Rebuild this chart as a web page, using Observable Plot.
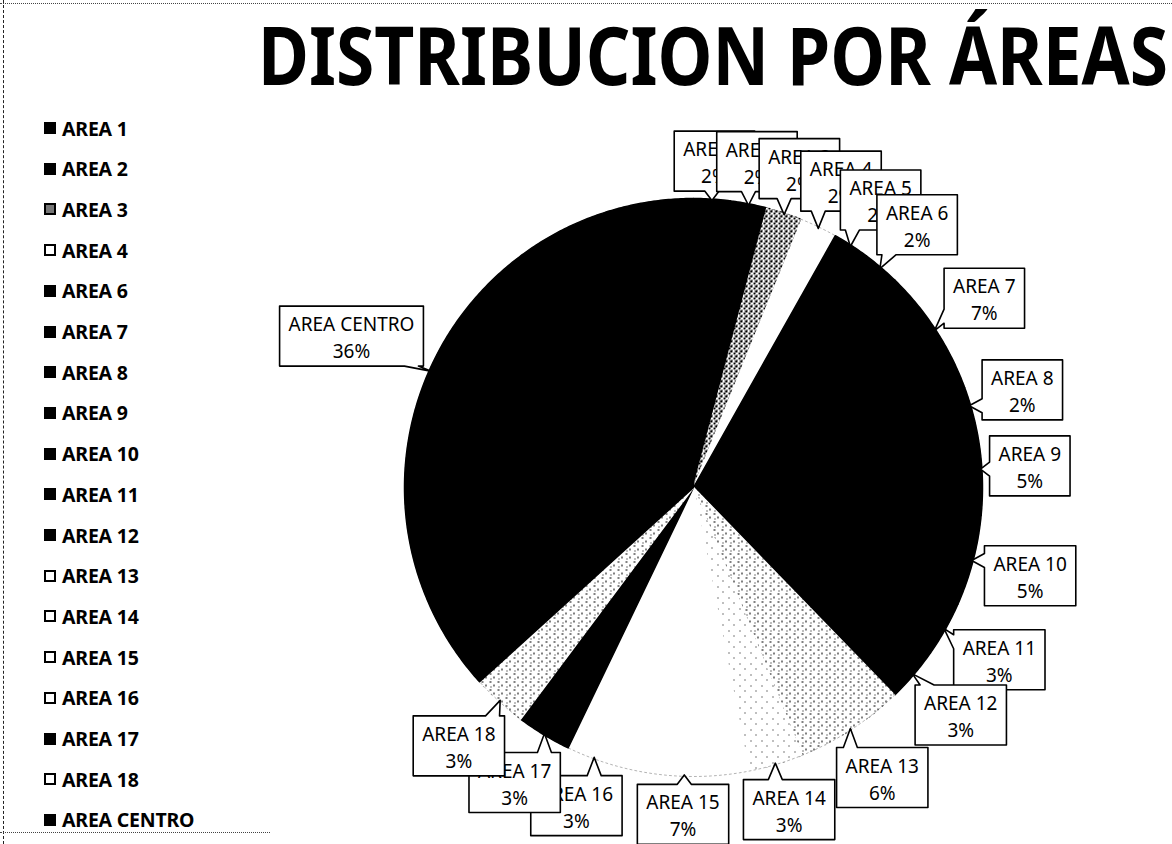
<!DOCTYPE html>
<html><head><meta charset="utf-8">
<script src="https://cdn.jsdelivr.net/npm/d3@7"></script>
<script src="https://cdn.jsdelivr.net/npm/@observablehq/plot@0.6"></script>
<style>
html,body{margin:0;padding:0;background:#fff;}
#wrap{position:relative;width:1172px;height:844px;overflow:hidden;font-family:"Noto Sans",sans-serif;background:#fff;}
#chart{position:absolute;left:0;top:0;}
#bl{position:absolute;left:3px;top:0;width:0;height:844px;border-left:1.5px dashed #222;}
#bt{position:absolute;left:0;top:3px;width:1172px;height:0;border-top:1px dotted #444;}
#bb{position:absolute;left:0;top:832px;width:270px;height:0;border-top:1px dotted #444;}
#title{position:absolute;left:258px;top:14px;font-size:80px;font-weight:700;line-height:80px;white-space:nowrap;transform-origin:0 0;color:#000;}
.leg{position:absolute;left:44px;height:20px;display:flex;align-items:center;font-weight:700;font-size:19.5px;white-space:nowrap;color:#000;letter-spacing:-0.2px;}
.sw{width:12px;height:12px;box-sizing:border-box;margin-right:6px;flex:none;}
</style></head><body>
<div id="wrap">
  <div id="chart"></div>
  <div id="bl"></div><div id="bt"></div><div id="bb"></div>
  <div id="title"></div>
  <div id="legend"></div>
</div>
<script>
// ---- data ----
const titleText = "DISTRIBUCION POR ÁREAS";
const categories = ["AREA 1","AREA 2","AREA 3","AREA 4","AREA 5","AREA 6","AREA 7","AREA 8","AREA 9","AREA 10",
  "AREA 11","AREA 12","AREA 13","AREA 14","AREA 15","AREA 16","AREA 17","AREA 18","AREA CENTRO"];
const percents = [2,2,2,2,2,2,7,2,5,5,3,3,6,3,7,3,3,3,36];
const legendCategories = ["AREA 1","AREA 2","AREA 3","AREA 4","AREA 6","AREA 7","AREA 8","AREA 9","AREA 10",
  "AREA 11","AREA 12","AREA 13","AREA 14","AREA 15","AREA 16","AREA 17","AREA 18","AREA CENTRO"];

// ---- styles ----
const sliceFills = ["#000","#000","url(#dotsDense)","#fff","#000","#000","#000","#000","#000","#000",
  "#000","#000","url(#dotsMed)","url(#dotsLight)","#fff","#fff","#000","url(#dotsMed)","#000"];
const legendSwatch = {
  "AREA 1":"black","AREA 2":"black","AREA 3":"gray","AREA 4":"open","AREA 6":"black","AREA 7":"black",
  "AREA 8":"black","AREA 9":"black","AREA 10":"black","AREA 11":"black","AREA 12":"black","AREA 13":"open",
  "AREA 14":"open","AREA 15":"open","AREA 16":"open","AREA 17":"black","AREA 18":"open","AREA CENTRO":"black"};

// ---- geometry ----
const W = 1172, H = 844, CX = 693, CY = 487, R = 289;
const FONT = "'Noto Sans', sans-serif", FS = 19;

const arcs = d3.pie().sort(null).value(d => d.value)(categories.map((name, i) => ({name, value: percents[i], fill: sliceFills[i]})));

const slicePts = arcs.flatMap(a => {
  const n = Math.max(2, Math.ceil((a.endAngle - a.startAngle) / (Math.PI / 360)));
  const base = {name: a.data.name, fill: a.data.fill};
  const pts = [{...base, x: 0, y: 0}];
  for (let j = 0; j <= n; j++) {
    const t = a.startAngle + (a.endAngle - a.startAngle) * j / n;
    pts.push({...base, x: Math.sin(t), y: Math.cos(t)});
  }
  pts.push({...base, x: 0, y: 0});
  return pts;
});
const circlePts = d3.range(0, 361).map(d => ({x: Math.sin(d * Math.PI / 180), y: Math.cos(d * Math.PI / 180)}));

// measure text
const ctx = document.createElement("canvas").getContext("2d");
ctx.font = `${FS}px ${FONT}`;
const tw = s => ctx.measureText(s).width;

const GAP = 7, PAD = 9, BH = 60, WB = 7;
const labels = arcs.map(a => {
  const name = a.data.name;
  const pct = a.data.value + "%";
  const m = (a.startAngle + a.endAngle) / 2;
  const ux = Math.sin(m), uy = -Math.cos(m);
  const hw = (Math.max(tw(name), tw(pct)) + 2 * PAD) / 2, hh = BH / 2;
  let t = R;
  for (; t < R + 300; t += 1) {
    const cx = ux * t, cy = uy * t;
    const dx = Math.max(Math.abs(cx) - hw, 0), dy = Math.max(Math.abs(cy) - hh, 0);
    if (Math.hypot(dx, dy) >= R + GAP) break;
  }
  const cx = ux * t, cy = uy * t;
  const T = [ux * R * 0.995, uy * R * 0.995];
  const L = cx - hw, Rt = cx + hw, Tp = cy - hh, Bt = cy + hh;
  const rx = T[0] - cx, ry = T[1] - cy;
  const clamp = (v, lo, hi) => Math.max(lo, Math.min(hi, v));
  let poly;
  if (Math.abs(rx) * hh > Math.abs(ry) * hw) {
    const by = clamp(T[1], Tp + 12, Bt - 12);
    if (rx < 0) poly = [[L,Tp],[Rt,Tp],[Rt,Bt],[L,Bt],[L,by+WB],T,[L,by-WB],[L,Tp]];
    else poly = [[L,Tp],[Rt,Tp],[Rt,by-WB],T,[Rt,by+WB],[Rt,Bt],[L,Bt],[L,Tp]];
  } else {
    const bx = clamp(T[0], L + 12, Rt - 12);
    if (ry < 0) poly = [[L,Tp],[bx-WB,Tp],T,[bx+WB,Tp],[Rt,Tp],[Rt,Bt],[L,Bt],[L,Tp]];
    else poly = [[L,Tp],[Rt,Tp],[Rt,Bt],[bx+WB,Bt],T,[bx-WB,Bt],[L,Bt],[L,Tp]];
  }
  return {
    name, pct,
    x: cx / R, y: -cy / R,
    poly: poly.map(([px, py]) => ({x: px / R, y: -py / R}))
  };
});

const defsMark = () => {
  const d = document.createElementNS("http://www.w3.org/2000/svg", "defs");
  d.innerHTML = `
  <pattern id="dotsDense" width="5" height="5" patternUnits="userSpaceOnUse">
    <rect width="5" height="5" fill="#fff"/><rect x="0" y="0" width="2" height="2" fill="#000"/>
    <rect x="3" y="2" width="2" height="2" fill="#000"/><rect x="1" y="4" width="1" height="1" fill="#000"/>
    <rect x="4" y="0" width="1" height="1" fill="#000"/></pattern>
  <pattern id="dotsMed" width="8" height="8" patternUnits="userSpaceOnUse">
    <rect width="8" height="8" fill="#fff"/><rect x="1" y="1" width="2" height="1" fill="#000"/>
    <rect x="5" y="4" width="1" height="2" fill="#000"/><rect x="2" y="6" width="1" height="1" fill="#000"/></pattern>
  <pattern id="dotsLight" width="11" height="11" patternUnits="userSpaceOnUse">
    <rect width="11" height="11" fill="#fff"/><rect x="2" y="3" width="1" height="1" fill="#000"/>
    <rect x="7" y="8" width="1" height="1" fill="#000"/></pattern>`;
  return d;
};

const marks = [
  defsMark,
  Plot.line(slicePts, {x: "x", y: "y", z: "name", fill: "fill", stroke: "fill", strokeWidth: 1.5}),
  Plot.line(circlePts, {x: "x", y: "y", stroke: "#000", strokeWidth: 0.6, strokeOpacity: 0.5, strokeDasharray: "2,3"})
];
for (const lab of labels) {
  marks.push(Plot.line(lab.poly, {x: "x", y: "y", fill: "white", stroke: "black", strokeWidth: 1.6}));
  marks.push(Plot.text([lab], {x: "x", y: "y", text: d => `${d.name}\n${d.pct}`, fontSize: FS,
    fontFamily: FONT, lineHeight: 1.42, fill: "black"}));
}

const plot = Plot.plot({
  width: W, height: H,
  marginLeft: CX - R, marginRight: W - (CX + R), marginTop: CY - R, marginBottom: H - (CY + R),
  x: {domain: [-1, 1], axis: null},
  y: {domain: [-1, 1], axis: null},
  color: {type: "identity"},
  style: {background: "transparent", overflow: "visible"},
  marks
});
document.getElementById("chart").append(plot);

// title
const title = document.getElementById("title");
title.textContent = titleText;
const twid = title.getBoundingClientRect().width;
title.style.transform = `scaleX(${910 / twid})`;

// legend
const legend = document.getElementById("legend");
legendCategories.forEach((c, i) => {
  const row = document.createElement("div");
  row.className = "leg";
  row.style.top = (128 + i * 40.7 - 10) + "px";
  const sw = document.createElement("div");
  sw.className = "sw";
  const k = legendSwatch[c];
  if (k === "black") sw.style.background = "#000";
  else if (k === "gray") { sw.style.background = "#777"; sw.style.border = "2px solid #000"; }
  else { sw.style.background = "#fff"; sw.style.border = "2px solid #000"; }
  row.append(sw, document.createTextNode(c));
  legend.append(row);
});
</script>
</body></html>
